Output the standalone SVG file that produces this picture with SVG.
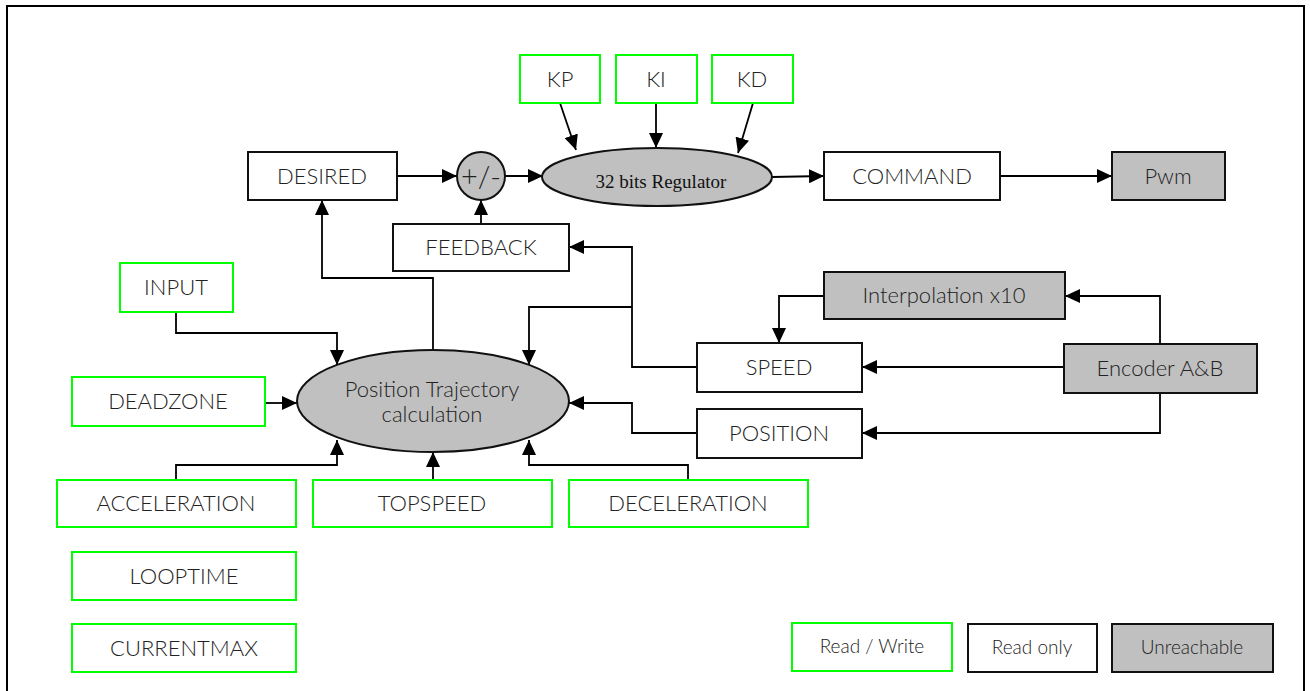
<svg xmlns="http://www.w3.org/2000/svg" width="1310" height="691" viewBox="0 0 1310 691">
  <style>
    .rw { fill: #ffffff; stroke: #00ff00; stroke-width: 2; }
    .ro { fill: #ffffff; stroke: #111111; stroke-width: 2; }
    .un { fill: #c0c0c0; stroke: #111111; stroke-width: 2; }
    .lbl { font-family: Lato, "Open Sans", "Liberation Sans", sans-serif; font-weight: 300; font-size: 22px; fill: #222222; text-anchor: middle; }
    .leg { font-size: 19px; }
    .reg { font-family: "Liberation Serif", serif; font-size: 19px; fill: #111111; text-anchor: middle; }
    .wire { fill: none; stroke: #000000; stroke-width: 1.8; marker-end: url(#arrow); }
  </style>
  <defs>
    <marker id="arrow" markerUnits="userSpaceOnUse" markerWidth="16" markerHeight="14" refX="15" refY="7" orient="auto">
      <path d="M0,0 L15,7 L0,14 Z" fill="#000000"/>
    </marker>
  </defs>

  <rect width="1310" height="691" fill="#ffffff"/>
  <!-- outer frame, open at the bottom -->
  <path d="M7,691 V6 H1304 V691" fill="none" stroke="#000000" stroke-width="2"/>

  <!-- connectors -->
  <g id="connectors">
    <path class="wire" d="M397,176 H457"/>
    <path class="wire" d="M505,176 H543"/>
    <path class="wire" d="M481,224 V200"/>
    <path class="wire" d="M560,103 L576,150"/>
    <path class="wire" d="M656,103 V148"/>
    <path class="wire" d="M753,103 L738,153"/>
    <path class="wire" d="M772,177 L824,176"/>
    <path class="wire" d="M1000,176 H1112"/>
    <path class="wire" d="M433,350 V278 H322 V200"/>
    <path class="wire" d="M697,367 H632 V247 H569"/>
    <path class="wire" d="M632,307 H529 V365"/>
    <path class="wire" d="M697,433 H632 V403 H569"/>
    <path class="wire" d="M176,312 V333 H337 V365"/>
    <path class="wire" d="M265,403 H297"/>
    <path class="wire" d="M176,480 V465 H337 V440"/>
    <path class="wire" d="M433,480 V452"/>
    <path class="wire" d="M688,480 V465 H529 V440"/>
    <path class="wire" d="M824,296 H779 V343"/>
    <path class="wire" d="M1160,344 V296 H1065"/>
    <path class="wire" d="M1064,367 H862"/>
    <path class="wire" d="M1160,393 V433 H862"/>
  </g>

  <!-- regulator branch -->
  <g id="kp"><rect class="rw" x="520" y="55" width="80" height="48"/><text class="lbl" x="560" y="87">KP</text></g>
  <g id="ki"><rect class="rw" x="616" y="55" width="81" height="48"/><text class="lbl" x="656" y="87">KI</text></g>
  <g id="kd"><rect class="rw" x="712" y="55" width="81" height="48"/><text class="lbl" x="752" y="87">KD</text></g>
  <g id="desired"><rect class="ro" x="248" y="152" width="149" height="48"/><text class="lbl" x="322" y="184">DESIRED</text></g>
  <g id="sum"><circle cx="481" cy="176" r="24" fill="#c0c0c0" stroke="#111111" stroke-width="2"/><text class="lbl" x="481" y="187" style="font-size:29px">+/-</text></g>
  <g id="regulator"><ellipse cx="657" cy="177" rx="115" ry="29" fill="#c0c0c0" stroke="#111111" stroke-width="2"/><text class="reg" x="661" y="188">32 bits Regulator</text></g>
  <g id="command"><rect class="ro" x="824" y="152" width="176" height="48"/><text class="lbl" x="912" y="184">COMMAND</text></g>
  <g id="pwm"><rect class="un" x="1112" y="152" width="113" height="48"/><text class="lbl" x="1168" y="184">Pwm</text></g>
  <g id="feedback"><rect class="ro" x="393" y="224" width="176" height="47"/><text class="lbl" x="481" y="255">FEEDBACK</text></g>

  <!-- trajectory inputs -->
  <g id="input"><rect class="rw" x="120" y="263" width="113" height="49"/><text class="lbl" x="176" y="295">INPUT</text></g>
  <g id="deadzone"><rect class="rw" x="72" y="377" width="193" height="49"/><text class="lbl" x="168" y="409">DEADZONE</text></g>
  <g id="trajectory">
    <ellipse cx="433" cy="401" rx="136" ry="51" fill="#c0c0c0" stroke="#111111" stroke-width="2"/>
    <text class="lbl" x="432" y="397">Position Trajectory</text>
    <text class="lbl" x="432" y="422">calculation</text>
  </g>
  <g id="acceleration"><rect class="rw" x="57" y="480" width="239" height="47"/><text class="lbl" x="176" y="511">ACCELERATION</text></g>
  <g id="topspeed"><rect class="rw" x="313" y="480" width="239" height="47"/><text class="lbl" x="432" y="511">TOPSPEED</text></g>
  <g id="deceleration"><rect class="rw" x="569" y="480" width="239" height="47"/><text class="lbl" x="688" y="511">DECELERATION</text></g>
  <g id="looptime"><rect class="rw" x="72" y="552" width="224" height="48"/><text class="lbl" x="184" y="584">LOOPTIME</text></g>
  <g id="currentmax"><rect class="rw" x="72" y="624" width="224" height="48"/><text class="lbl" x="184" y="656">CURRENTMAX</text></g>

  <!-- encoder branch -->
  <g id="interpolation"><rect class="un" x="824" y="272" width="241" height="47"/><text class="lbl" x="944" y="303">Interpolation x10</text></g>
  <g id="speed"><rect class="ro" x="697" y="343" width="165" height="49"/><text class="lbl" x="779" y="375">SPEED</text></g>
  <g id="position"><rect class="ro" x="697" y="409" width="165" height="49"/><text class="lbl" x="779" y="441">POSITION</text></g>
  <g id="encoder"><rect class="un" x="1064" y="344" width="193" height="49"/><text class="lbl" x="1160" y="376">Encoder A&amp;B</text></g>

  <!-- legend -->
  <g id="legend-rw"><rect class="rw" x="792" y="623" width="160" height="48"/><text class="lbl leg" x="872" y="653">Read / Write</text></g>
  <g id="legend-ro"><rect class="ro" x="968" y="624" width="129" height="48"/><text class="lbl leg" x="1032" y="654">Read only</text></g>
  <g id="legend-un"><rect class="un" x="1112" y="624" width="161" height="48"/><text class="lbl leg" x="1192" y="654">Unreachable</text></g>
</svg>
